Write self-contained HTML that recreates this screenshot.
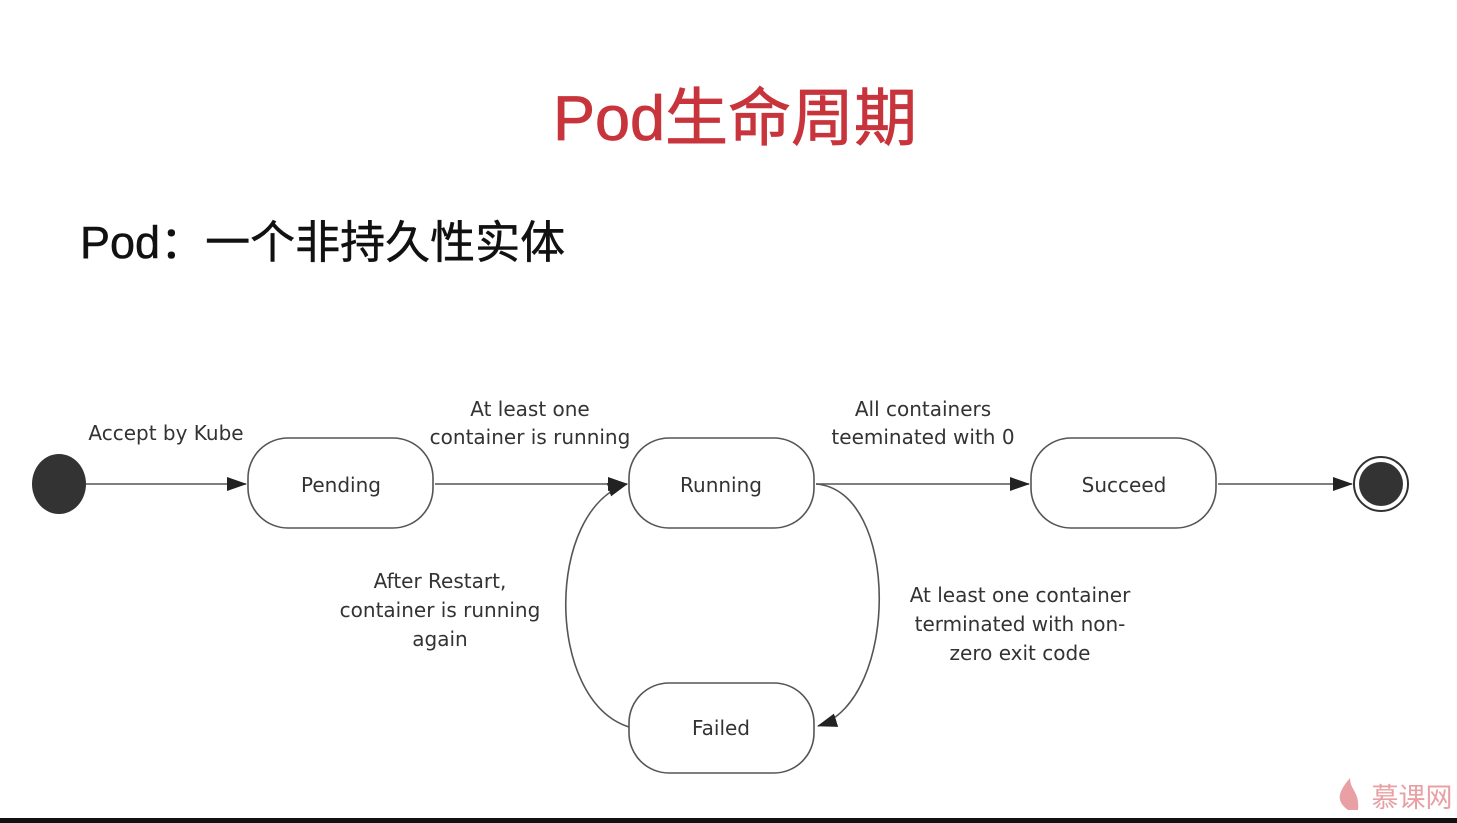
<!DOCTYPE html>
<html><head><meta charset="utf-8"><style>
html,body{margin:0;padding:0;background:#fff;}
body{width:1457px;height:823px;overflow:hidden;position:relative;}
svg{position:absolute;left:0;top:0;}
</style></head><body>
<svg width="1457" height="823" viewBox="0 0 1457 823" xmlns="http://www.w3.org/2000/svg">
<defs>
<marker id="a" markerWidth="20" markerHeight="16" refX="19" refY="8" orient="auto" markerUnits="userSpaceOnUse">
<path d="M0,1 L20,8 L0,15 Z" fill="#222"/>
</marker>
</defs>
<text x="735" y="140" text-anchor="middle" font-family="Liberation Sans, Noto Sans CJK SC, sans-serif" font-size="63" fill="#c8343c" stroke="#c8343c" stroke-width="0.8">Pod生命周期</text>
<text x="80" y="258" font-family="Liberation Sans, Noto Sans CJK SC, sans-serif" font-size="45" fill="#111" stroke="#111" stroke-width="0.5">Pod：一个非持久性实体</text>
<g font-family="DejaVu Sans, Liberation Sans, sans-serif" font-size="20" fill="#333" text-anchor="middle">
<ellipse cx="59" cy="484" rx="27" ry="30" fill="#333"/>
<circle cx="1381" cy="484" r="27" fill="#fff" stroke="#333" stroke-width="2"/>
<circle cx="1381" cy="484" r="22" fill="#333"/>
<g fill="#fff" stroke="#555" stroke-width="1.6">
<rect x="248" y="438" width="185" height="90" rx="40"/>
<rect x="629" y="438" width="185" height="90" rx="40"/>
<rect x="1031" y="438" width="185" height="90" rx="40"/>
<rect x="629" y="683" width="185" height="90" rx="40"/>
</g>
<text x="341" y="492">Pending</text>
<text x="721" y="492">Running</text>
<text x="1124" y="492">Succeed</text>
<text x="721" y="735">Failed</text>
<g stroke="#555" stroke-width="1.6" fill="none">
<line x1="86" y1="484" x2="246" y2="484" marker-end="url(#a)"/>
<line x1="435" y1="484" x2="627" y2="484" marker-end="url(#a)"/>
<line x1="816" y1="484" x2="1029" y2="484" marker-end="url(#a)"/>
<line x1="1218" y1="484" x2="1352" y2="484" marker-end="url(#a)"/>
<path d="M816,484 C900,490 900,700 818,726" marker-end="url(#a)"/>
<path d="M629,727 C545,700 545,510 627,484" marker-end="url(#a)"/>
</g>
<text x="166" y="440">Accept by Kube</text>
<text x="530" y="416">At least one</text>
<text x="530" y="444">container is running</text>
<text x="923" y="416">All containers</text>
<text x="923" y="444">teeminated with 0</text>
<text x="440" y="588">After Restart,</text>
<text x="440" y="617">container is running</text>
<text x="440" y="646">again</text>
<text x="1020" y="602">At least one container</text>
<text x="1020" y="631">terminated with non-</text>
<text x="1020" y="660">zero exit code</text>
</g>
<path d="M1348,810 C1334,800 1340,790 1350,778 C1350,790 1360,792 1358,810 Z" fill="#e8a0a4"/>
<text x="1412" y="807" text-anchor="middle" font-family="Noto Sans CJK SC, sans-serif" font-size="27" fill="#e8a0a4">慕课网</text>
<rect x="0" y="818" width="1457" height="5" fill="#111"/>
</svg>
</body></html>
